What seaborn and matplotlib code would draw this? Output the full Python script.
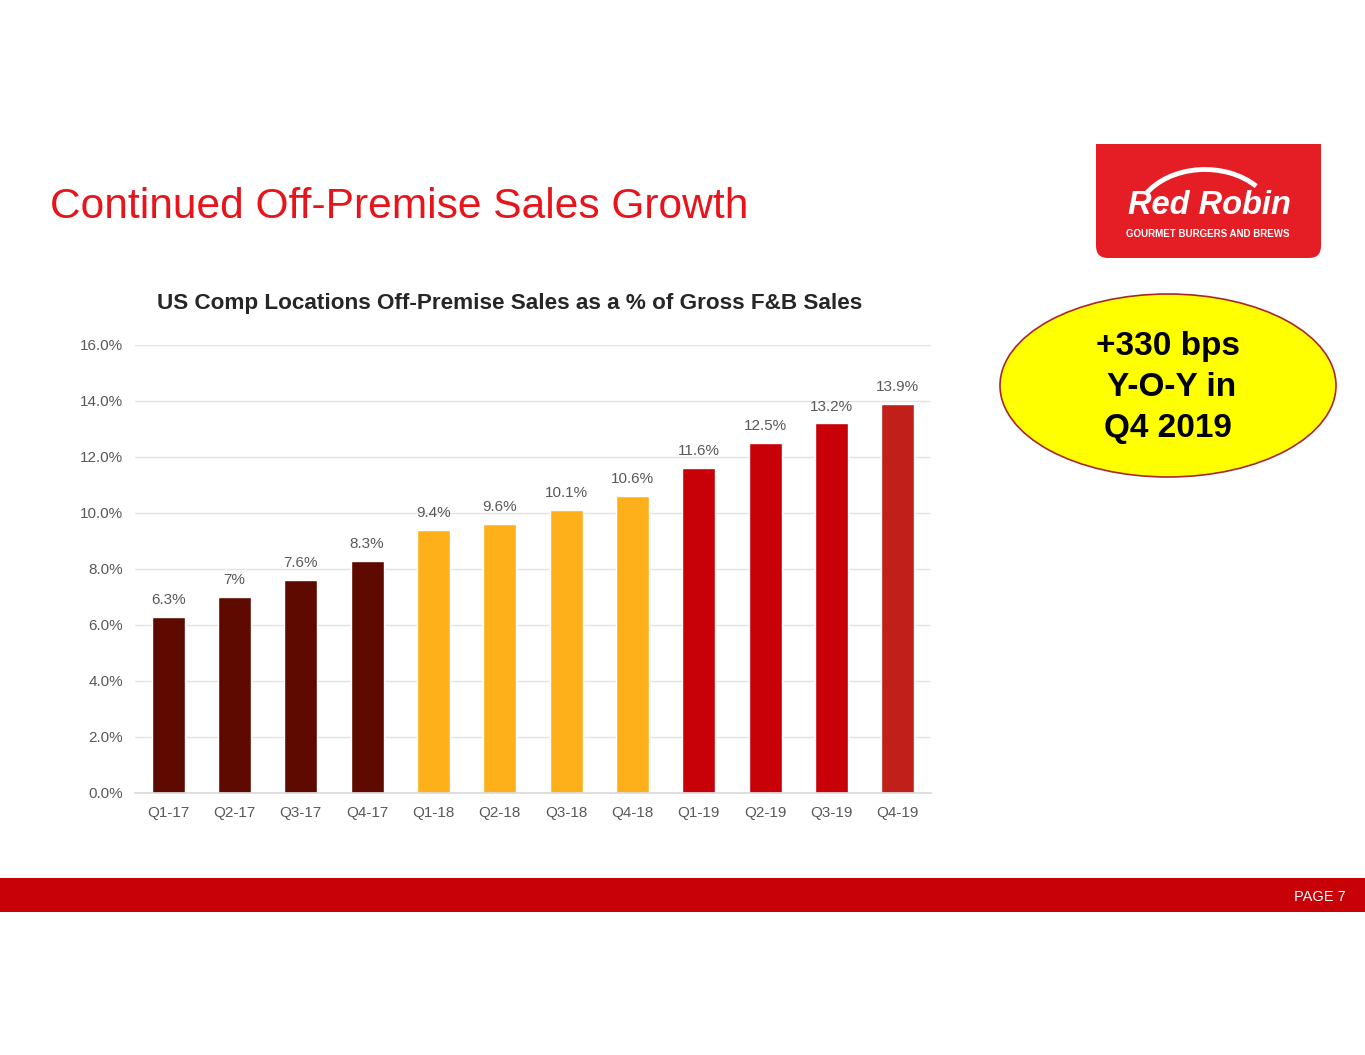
import numpy as np
import pandas as pd
import seaborn as sns
import matplotlib
matplotlib.use("Agg")
import matplotlib.pyplot as plt
from matplotlib.patches import Ellipse, FancyBboxPatch, Rectangle, Arc

quarters = ['Q1-17', 'Q2-17', 'Q3-17', 'Q4-17',
            'Q1-18', 'Q2-18', 'Q3-18', 'Q4-18',
            'Q1-19', 'Q2-19', 'Q3-19', 'Q4-19']
off_premise = [6.3, 7.0, 7.6, 8.3, 9.4, 9.6, 10.1, 10.6, 11.6, 12.5, 13.2, 13.9]
bar_labels = ['6.3%', '7%', '7.6%', '8.3%', '9.4%', '9.6%', '10.1%', '10.6%',
              '11.6%', '12.5%', '13.2%', '13.9%']
bar_colors = ['#5E0A00'] * 4 + ['#FDB01A'] * 4 + ['#C80008'] * 3 + ['#C01F1A']
y_ticks = [0, 2, 4, 6, 8, 10, 12, 14, 16]

sns.set_theme(style="white")
plt.rcParams['font.family'] = ['Liberation Sans', 'DejaVu Sans']

W, H = 1365, 1055
fig = plt.figure(figsize=(W / 100, H / 100), dpi=100)
fig.patch.set_facecolor('white')

# chart area
ax = fig.add_axes([135 / W, 1 - 793 / H, (931 - 135) / W, (793 - 345) / H])
df = pd.DataFrame({'quarter': quarters, 'pct': off_premise})
sns.barplot(data=df, x='quarter', y='pct', hue='quarter', palette=bar_colors,
            legend=False, width=0.5, saturation=1, ax=ax)
ax.set_ylim(0, 16)
ax.set_xlim(-0.5, 11.5)
ax.set_yticks(y_ticks)
ax.set_yticklabels([f'{t:.1f}%' for t in y_ticks])
ax.yaxis.grid(True, color='#E3E3E3', linewidth=1)
ax.set_axisbelow(True)
for side in ['top', 'right', 'left']:
    ax.spines[side].set_visible(False)
ax.spines['bottom'].set_color('#D9D9D9')
ax.tick_params(axis='y', length=0, pad=8.7, labelsize=11, labelcolor='#595959')
ax.tick_params(axis='x', length=0, pad=9.5, labelsize=11, labelcolor='#595959')
ax.set_xlabel('')
ax.set_ylabel('')
for i, cont in enumerate(ax.containers):
    ax.bar_label(cont, labels=[bar_labels[i]], padding=7, fontsize=11, color='#595959')

fig.text(510 / W, 1 - 303 / H,
         'US Comp Locations Off-Premise Sales as a % of Gross F&B Sales',
         fontsize=16.2, fontweight='bold', color='#262626', ha='center', va='center')

# decorations in pixel coordinates
deco = fig.add_axes([0, 0, 1, 1], zorder=-1)
deco.set_xlim(0, W)
deco.set_ylim(H, 0)
deco.axis('off')

fig.text(50 / W, 1 - 207 / H, 'Continued Off-Premise Sales Growth', color='#E8141C',
         fontsize=30.6, va='center', ha='left')

# logo
logo_red = '#E51E25'
deco.add_patch(FancyBboxPatch((1096, 144), 225, 114, boxstyle='round,pad=0,rounding_size=12',
                              facecolor=logo_red, edgecolor='none'))
deco.add_patch(Rectangle((1096, 144), 225, 40, facecolor=logo_red, edgecolor='none'))
deco.add_patch(Arc((1205, 222), 140, 105, theta1=205, theta2=325, color='white', lw=3.5))
deco.text(1209, 206, 'Red Robin', color='white', fontsize=23.5, fontweight='bold',
          fontstyle='italic', ha='center', va='center')
deco.text(1208, 234, 'GOURMET BURGERS AND BREWS', color='white', fontsize=7,
          fontweight='bold', ha='center', va='center')

# callout
deco.add_patch(Ellipse((1168, 385.5), 336, 183, facecolor='#FFFF00', edgecolor='#A8282A',
                       lw=1.2))
fig.text(1168 / W, 1 - 347 / H, '+330 bps', fontsize=24, fontweight='bold',
         ha='center', va='center', color='black')
fig.text(1172 / W, 1 - 388 / H, 'Y-O-Y in', fontsize=24, fontweight='bold',
         ha='center', va='center', color='black')
fig.text(1168 / W, 1 - 429 / H, 'Q4 2019', fontsize=24, fontweight='bold',
         ha='center', va='center', color='black')

# footer band
deco.add_patch(Rectangle((0, 878), W, 34, facecolor='#C80008', edgecolor='none'))
fig.text(1346 / W, 1 - 897 / H, 'PAGE 7', color='white', fontsize=10.5,
         ha='right', va='center')

fig.savefig('out.png', dpi=100, facecolor='white')
